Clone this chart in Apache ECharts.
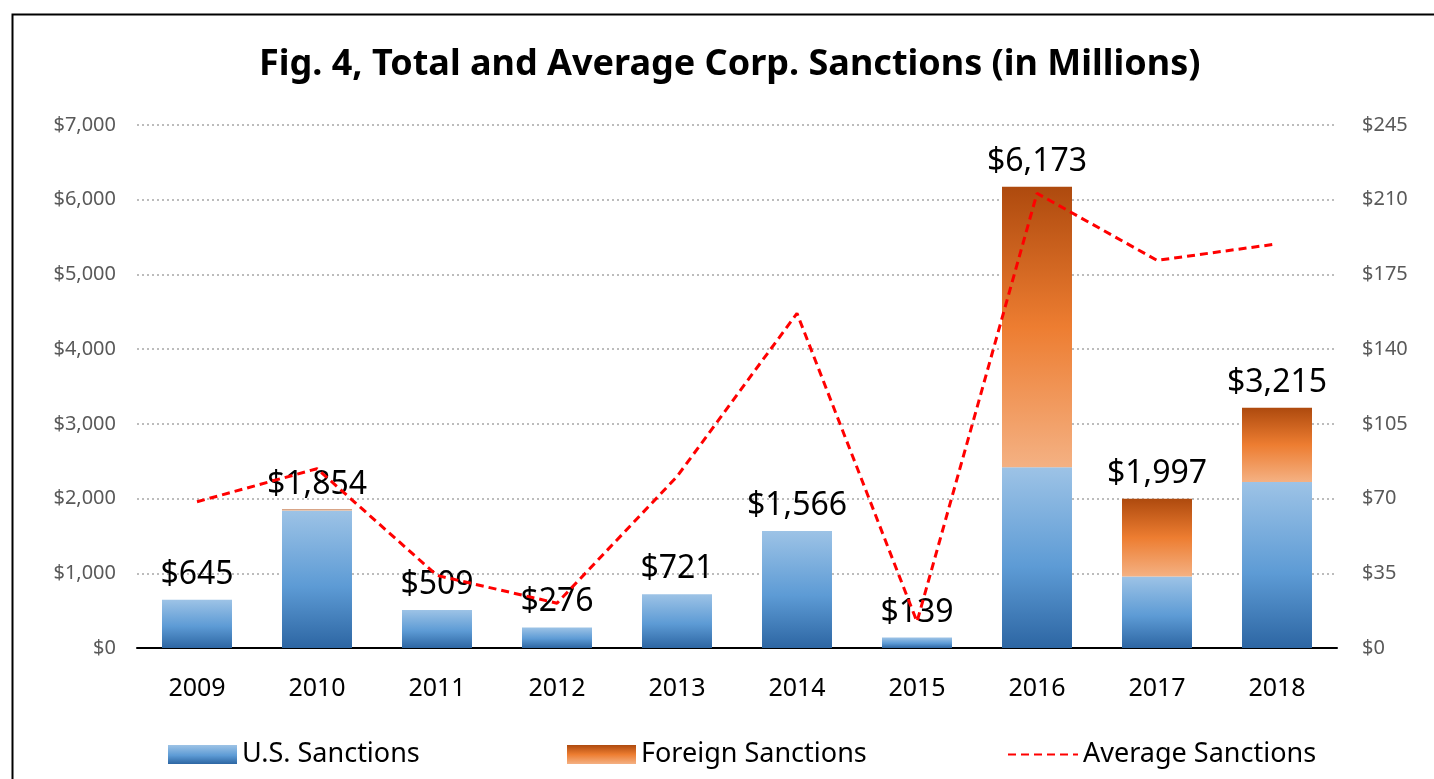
<!DOCTYPE html>
<html>
<head>
<meta charset="utf-8">
<script src="https://cdn.jsdelivr.net/npm/echarts@6/dist/echarts.min.js"></script>
<style>
  html, body { margin: 0; padding: 0; background: #fff; }
  #chart { width: 1434px; height: 779px; }
</style>
</head>
<body>
<div id="chart"></div>
<script>
// data
const years = ["2009", "2010", "2011", "2012", "2013", "2014", "2015", "2016", "2017", "2018"];
const usSanctions = [645, 1840, 509, 276, 721, 1566, 139, 2420, 956, 2222];
const foreignSanctions = [0, 14, 0, 0, 0, 0, 0, 3753, 1041, 993];
const totalLabels = [645, 1854, 509, 276, 721, 1566, 139, 6173, 1997, 3215];
const avgSanctions = [68.5, 84, 34, 21, 80.3, 156.8, 12.3, 213, 181.6, 189.3];

const font = "Noto Sans";

function grad(stops) {
  return new echarts.graphic.LinearGradient(0, 0, 0, 1, stops);
}
const blue = grad([
  { offset: 0, color: "#9dc3e6" },
  { offset: 0.55, color: "#5d9bd5" },
  { offset: 1, color: "#2d66a3" },
]);
const orange = grad([
  { offset: 0, color: "#ae4a0e" },
  { offset: 0.5, color: "#ed7d31" },
  { offset: 1, color: "#f4b183" },
]);

const myChart = echarts.init(document.querySelector("#chart"));

const legendText = { fontFamily: font, fontSize: 27, color: "#000" };

const option = {
  backgroundColor: "#fff",
  textStyle: { fontFamily: font },
  title: {
    text: "Fig. 4, Total and Average Corp. Sanctions (in Millions)",
    left: 254,
    top: 42,
    textStyle: { fontFamily: font, fontSize: 36, fontWeight: "bold", color: "#000" },
  },
  graphic: [
    {
      type: "rect",
      left: 10,
      top: 12,
      shape: { width: 1440, height: 800 },
      style: { fill: "none", stroke: "#000", lineWidth: 2 },
      silent: true,
    },
  ],
  legend: [
    {
      data: [{ name: "U.S. Sanctions", icon: "rect" }],
      left: 163, top: 736,
      itemWidth: 69, itemHeight: 19, itemGap: 0,
      textStyle: legendText,
    },
    {
      data: [{ name: "Foreign Sanctions", icon: "rect" }],
      left: 562, top: 736,
      itemWidth: 69, itemHeight: 19, itemGap: 0,
      textStyle: legendText,
    },
    {
      data: ["Average Sanctions"],
      left: 1002, top: 736,
      itemWidth: 70, itemHeight: 19, itemGap: 0,
      itemStyle: { opacity: 0 },
      textStyle: legendText,
    },
  ],
  grid: { left: 137, right: 97, top: 125, bottom: 131 },
  xAxis: [
    {
      type: "category",
      data: years,
      axisLine: { lineStyle: { color: "#000", width: 2 } },
      axisTick: { length: 9, lineStyle: { color: "#000", width: 2 } },
      axisLabel: { color: "#000", fontSize: 25, margin: 28, fontFamily: font },
    },
    {
      type: "category",
      data: years,
      position: "bottom",
      axisLine: { show: false },
      axisTick: { inside: true, length: 9, lineStyle: { color: "#000", width: 2 } },
      axisLabel: { show: false },
    },
  ],
  yAxis: [
    {
      type: "value",
      min: 0, max: 7000, interval: 1000,
      axisLine: { show: false },
      axisTick: { show: false },
      axisLabel: {
        color: "#595959", fontSize: 20, margin: 21, fontFamily: font,
        formatter: (v) => "$" + v.toLocaleString("en-US"),
      },
      splitLine: { lineStyle: { color: "#a6a6a6", width: 1.5, type: [2, 3] } },
    },
    {
      type: "value",
      min: 0, max: 245, interval: 35,
      axisLine: { show: false },
      axisTick: { show: false },
      axisLabel: {
        color: "#595959", fontSize: 20, margin: 25, fontFamily: font,
        formatter: (v) => "$" + v,
      },
      splitLine: { show: false },
    },
  ],
  series: [
    {
      name: "U.S. Sanctions",
      type: "bar",
      stack: "total",
      barWidth: 70,
      itemStyle: { color: blue },
      data: usSanctions,
      z: 2,
    },
    {
      name: "Foreign Sanctions",
      type: "bar",
      stack: "total",
      barWidth: 70,
      itemStyle: { color: orange },
      data: foreignSanctions,
      z: 2,
      label: {
        show: true,
        position: "top",
        distance: 9,
        fontFamily: font,
        fontSize: 32,
        color: "#000",
        formatter: (p) => "$" + totalLabels[p.dataIndex].toLocaleString("en-US"),
      },
    },
    {
      name: "Average Sanctions",
      type: "line",
      yAxisIndex: 1,
      data: avgSanctions,
      symbol: "none",
      lineStyle: { color: "#ff0000", width: 3, type: [8, 5] },
      itemStyle: { color: "#ff0000" },
      z: 5,
    },
  ],
};

myChart.setOption(option);
window.addEventListener("resize", () => {
  myChart.resize();
});
</script>
</body>
</html>
